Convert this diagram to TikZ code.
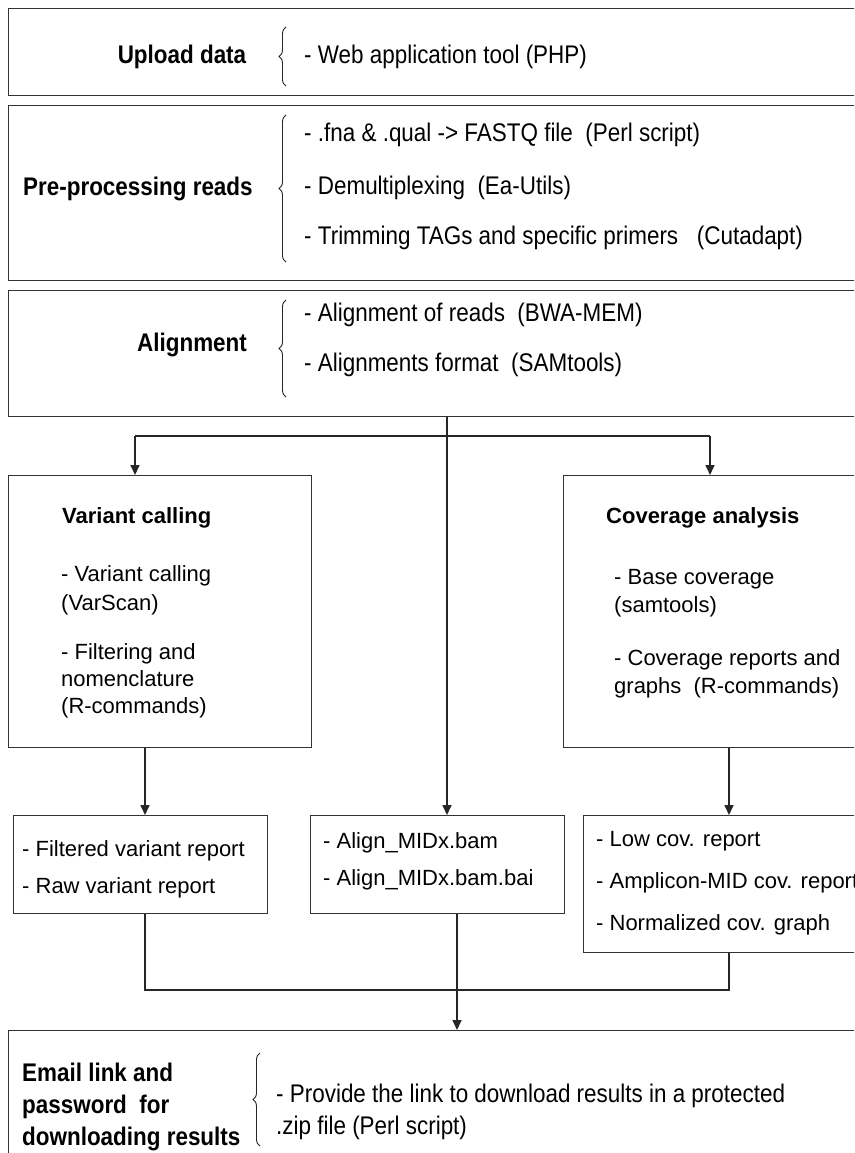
\documentclass[tikz,border=0pt]{standalone}
\usepackage{fontspec}
\setmainfont{Liberation Sans}
\newfontfamily\narrowsf[FakeStretch=0.88]{Liberation Sans}
\usetikzlibrary{arrows.meta,decorations.pathreplacing}

\tikzset{
  box/.style={draw=black!80, line width=1.3pt, inner sep=0pt, anchor=north west},
  conn/.style={draw=black!85, line width=1.6pt},
  arrowconn/.style={conn, -{Triangle[length=10pt,width=9pt]}},
  curly/.style={draw=black!85, line width=0.9pt, decorate,
                decoration={brace, amplitude=7pt}},
  toptxt/.style={inner sep=0pt, anchor=base west, font=\narrowsf\fontsize{25.5}{30}\selectfont},
  toplbl/.style={toptxt, font=\narrowsf\bfseries\fontsize{25.5}{30}\selectfont},
  txt/.style={inner sep=0pt, anchor=base west, font=\fontsize{22}{28}\selectfont},
  lbl/.style={txt, font=\bfseries\fontsize{22}{28}\selectfont},
}

\begin{document}
\begin{tikzpicture}[x=1pt,y=-1pt]
\useasboundingbox (0,0) rectangle (854,1153);
\clip (0,0) rectangle (854,1153);

% ---- pipeline stages (full width) ----
\node[box, minimum width=872pt, minimum height=87pt]  (upload) at (8,8) {};
\node[box, minimum width=872pt, minimum height=175pt] (pre)    at (8,105) {};
\node[box, minimum width=872pt, minimum height=126pt] (align)  at (8,290) {};

% Upload data
\node[toplbl, anchor=base] (uplbl) at (182,64) {Upload data};
\draw[curly] (286,86) -- (286,27);
\node[toptxt] (up1) at (304,64) {- Web application tool (PHP)};

% Pre-processing reads
\node[toplbl] (prelbl) at (23,195) {Pre-processing reads};
\draw[curly] (286,262) -- (286,115);
\node[toptxt] (pre1) at (304,142) {- .fna \& .qual -> FASTQ file\ \ (Perl script)};
\node[toptxt] (pre2) at (304,194) {- Demultiplexing\ \ (Ea-Utils)};
\node[toptxt] (pre3) at (304,244) {- Trimming TAGs and specific primers\ \ \ (Cutadapt)};

% Alignment
\node[toplbl, anchor=base] (allbl) at (192,351) {Alignment};
\draw[curly] (286,397) -- (286,300);
\node[toptxt] (al1) at (304,321) {- Alignment of reads\ \ (BWA-MEM)};
\node[toptxt] (al2) at (304,371) {- Alignments format\ \ (SAMtools)};

% ---- analysis branches ----
\node[box, minimum width=303pt, minimum height=272pt] (variant)  at (8,475) {};
\node[box, minimum width=317pt, minimum height=272pt] (coverage) at (563,475) {};

\node[lbl] (vlbl) at (62,523) {Variant calling};
\node[txt] (v1) at (61,581) {- Variant calling};
\node[txt] (v2) at (61,610) {(VarScan)};
\node[txt] (v3) at (61,659) {- Filtering and};
\node[txt] (v4) at (61,686) {nomenclature};
\node[txt] (v5) at (61,713) {(R-commands)};

\node[lbl] (clbl) at (606,523) {Coverage analysis};
\node[txt] (c1) at (614,584) {- Base coverage};
\node[txt] (c2) at (614,612) {(samtools)};
\node[txt] (c3) at (614,665) {- Coverage reports and};
\node[txt] (c4) at (614,693) {graphs\ \ (R-commands)};

% ---- output files ----
\node[box, minimum width=254pt, minimum height=98pt]  (vrep) at (13,815) {};
\node[box, minimum width=254pt, minimum height=98pt]  (bam)  at (310,815) {};
\node[box, minimum width=297pt, minimum height=137pt] (crep) at (583,815) {};

\node[txt] (vr1) at (22,856) {- Filtered variant report};
\node[txt] (vr2) at (22,893) {- Raw variant report};
\node[txt] (b1) at (323,848) {- Align\_MIDx.bam};
\node[txt] (b2) at (323,885) {- Align\_MIDx.bam.bai};
\node[txt] (cr1) at (596,846) {- Low cov. report};
\node[txt] (cr2) at (596,888) {- Amplicon-MID cov. report};
\node[txt] (cr3) at (596,930) {- Normalized cov. graph};

% ---- final stage ----
\node[box, minimum width=872pt, minimum height=140pt] (email) at (8,1030) {};
\node[toplbl] (e1) at (22,1081) {Email link and};
\node[toplbl] (e2) at (22,1113) {password\ \ for};
\node[toplbl] (e3) at (22,1145) {downloading results};
\draw[curly] (260,1146) -- (260,1053);
\node[toptxt] (p1) at (276,1102) {- Provide the link to download results in a protected};
\node[toptxt] (p2) at (276,1134) {.zip file (Perl script)};

% ---- connectors ----
\coordinate (trunk) at (447,436);
\coordinate (vtap)  at (135,436);
\coordinate (ctap)  at (710,436);
\coordinate (xv)    at (145,0);
\coordinate (xm)    at (457,0);
\coordinate (xc)    at (729,0);
\coordinate (merge) at (0,990);

\draw[arrowconn] (align.south -| trunk) -- (bam.north -| trunk);
\draw[conn] (vtap) -- (ctap);
\draw[arrowconn] (vtap) -- (variant.north -| vtap);
\draw[arrowconn] (ctap) -- (coverage.north -| ctap);

\draw[arrowconn] (variant.south -| xv) -- (vrep.north -| xv);
\draw[arrowconn] (coverage.south -| xc) -- (crep.north -| xc);

\draw[conn, line width=1.3pt] (vrep.south -| xv) -- (merge -| xv) -- (merge -| xc) -- (crep.south -| xc);
\draw[arrowconn] (bam.south -| xm) -- (email.north -| xm);
\end{tikzpicture}
\end{document}
